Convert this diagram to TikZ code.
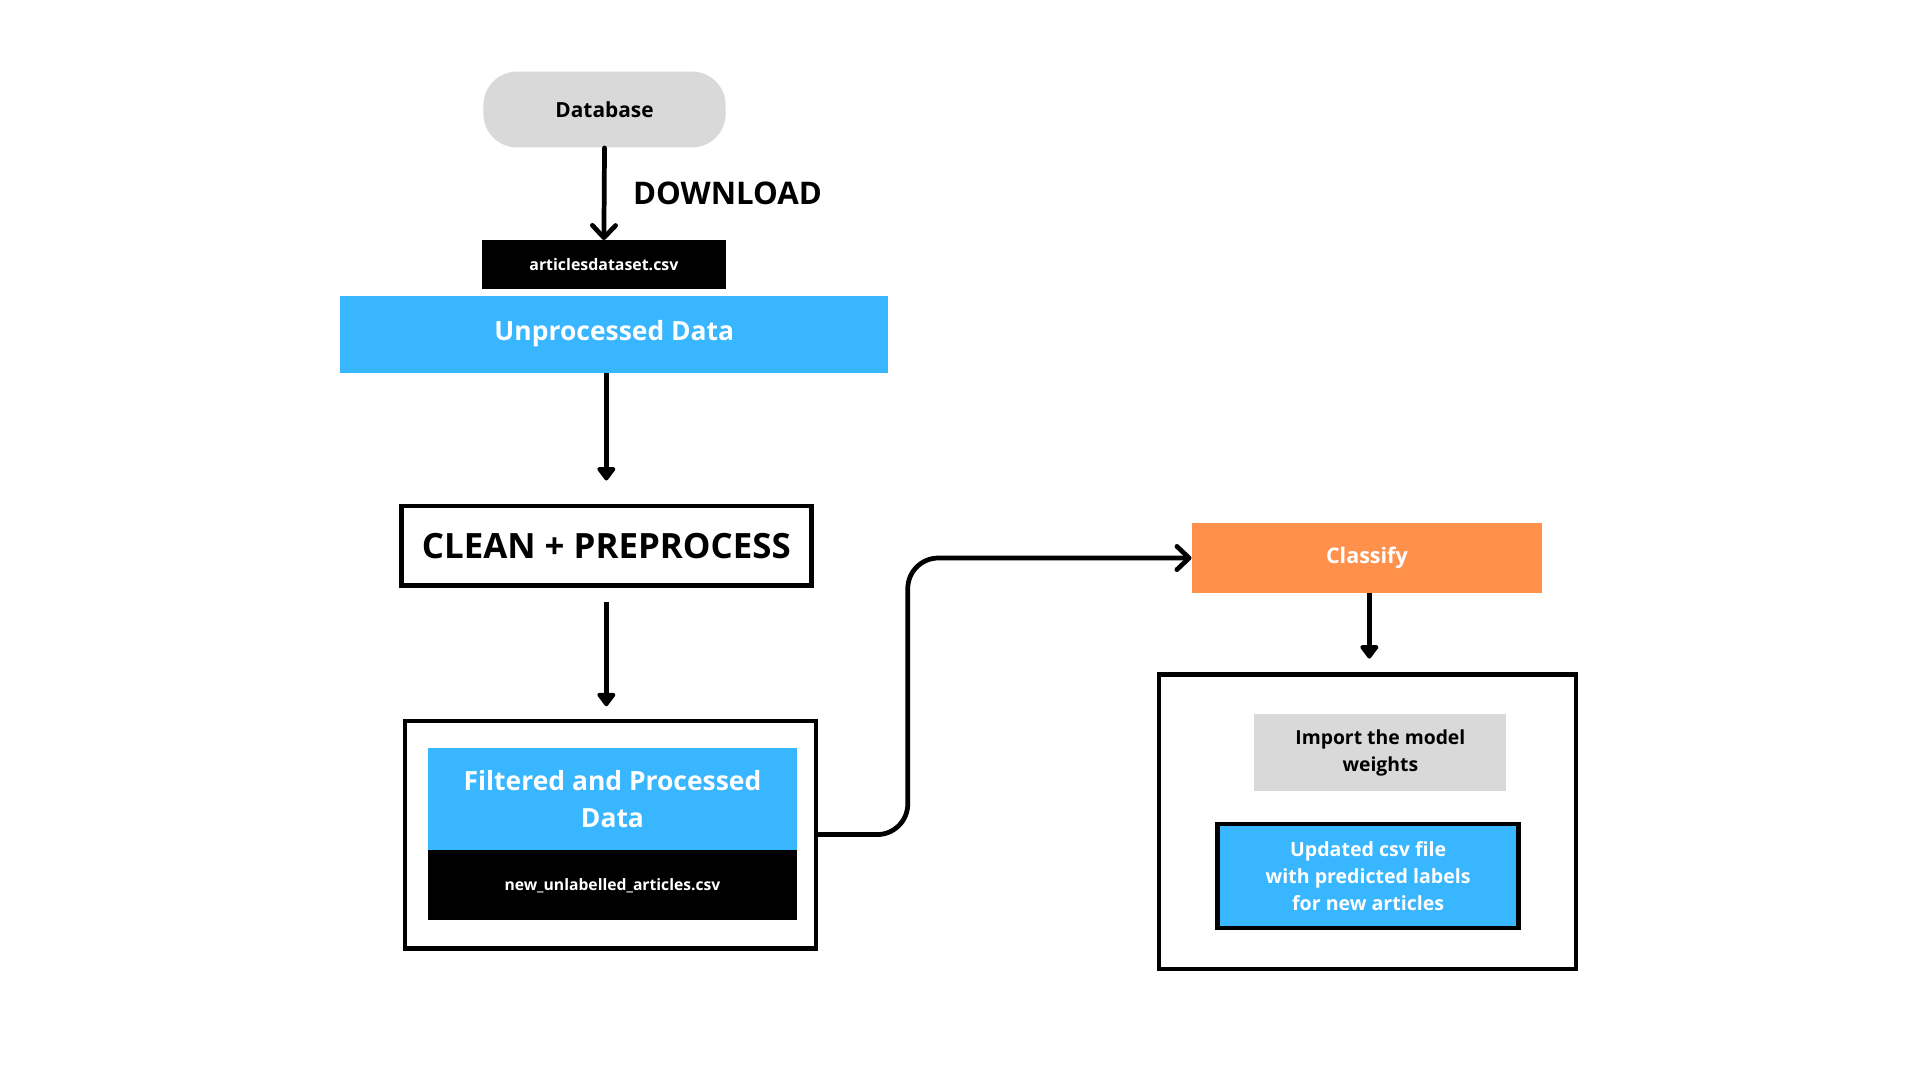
\documentclass[tikz,border=0pt]{standalone}
\usepackage{fontspec}
\setmainfont{Open Sans}
\usetikzlibrary{arrows.meta}
\definecolor{dbgray}{HTML}{D9D9D9}
\definecolor{skyblue}{HTML}{38B6FF}
\definecolor{classorange}{HTML}{FF914D}
\begin{document}
\begin{tikzpicture}[x=0.02cm,y=-0.02cm,
        box/.style={inner sep=0pt, align=center, font=\bfseries},
        frame/.style={box, draw=black, line width=2.1pt},
        flow/.style={draw, line width=2.2pt, -{Triangle[length=0.24cm,width=0.34cm,round]}},
        barb/.style={draw, line width=2.2pt, line cap=round, -{Straight Barb[length=0.2cm,width=0.38cm,round]}}]

            \useasboundingbox (0,0) rectangle (1569,882.6);
            \fill[white] (0,0) rectangle (1569,882.6);

            % download part
            \node[box, fill=dbgray, rounded corners=0.55cm, minimum width=3.96cm, minimum height=1.24cm,
                  font=\bfseries\fontsize{9.7}{12}\selectfont] (db) at (494,89.5) {Database};
            \node[box, fill=black, text=white, minimum width=3.98cm, minimum height=0.8cm,
                  font=\bfseries\fontsize{7.4}{9}\selectfont] (csv) at (493.5,216.5) {articlesdataset.csv};
            \node[box, fill=skyblue, text=white, minimum width=8.96cm, minimum height=1.26cm,
                  font=\bfseries\fontsize{12.3}{15}\selectfont] (raw) at (502,273) {Unprocessed Data};
            \node[anchor=west, inner sep=0pt, font=\bfseries\fontsize{14.5}{17}\selectfont] (dl) at (517,158) {DOWNLOAD};

            % cleaning
            \node[frame, minimum width=6.7cm, minimum height=1.3cm,
                  font=\bfseries\fontsize{16.2}{19}\selectfont] (clean) at (495.5,446) {CLEAN + PREPROCESS};
            \node[frame, minimum width=6.72cm, minimum height=3.72cm] (outerL) at (499,682) {};
            \node[box, fill=skyblue, text=white, minimum width=6.02cm, minimum height=1.68cm,
                  font=\bfseries\fontsize{12.3}{17}\selectfont] (filt) at (500.5,653) {Filtered and Processed\\Data};
            \node[box, fill=black, text=white, minimum width=6.02cm, minimum height=1.14cm,
                  font=\bfseries\fontsize{7.3}{9}\selectfont] (newcsv) at (500.5,723.5) {new\_unlabelled\_articles.csv};

            % classify
            \node[box, fill=classorange, text=white, minimum width=5.72cm, minimum height=1.14cm,
                  font=\bfseries\fontsize{10}{12}\selectfont] (cls) at (1117,456) {Classify};
            \node[frame, minimum width=6.82cm, minimum height=4.82cm] (outerR) at (1117.5,671.5) {};
            \node[box, fill=dbgray, minimum width=4.12cm, minimum height=1.26cm,
                  font=\bfseries\fontsize{9}{12.5}\selectfont] (weights) at (1128,615) {Import the model\\weights};
            \node[frame, fill=skyblue, text=white, minimum width=4.92cm, minimum height=1.7cm,
                  font=\bfseries\fontsize{9.1}{12.5}\selectfont] (upd) at (1118,716) {Updated csv file\\with predicted labels\\for new articles};

            % connectors
            \draw[barb] (db.south) -- (csv.north);
            \draw[flow, shorten >=0.38cm] (raw.south -| clean.north) -- (clean.north);
            \draw[flow, shorten <=0.24cm, shorten >=0.2cm] (clean.south) -- (clean.south |- outerL.north);
            \draw[barb, rounded corners=0.5cm] (outerL.east) -- ++(73,0) |- (cls.west);
            \draw[flow, shorten >=0.22cm] (cls.south -| 1119,0) -- (outerR.north -| 1119,0);

        \end{tikzpicture}
\end{document}
